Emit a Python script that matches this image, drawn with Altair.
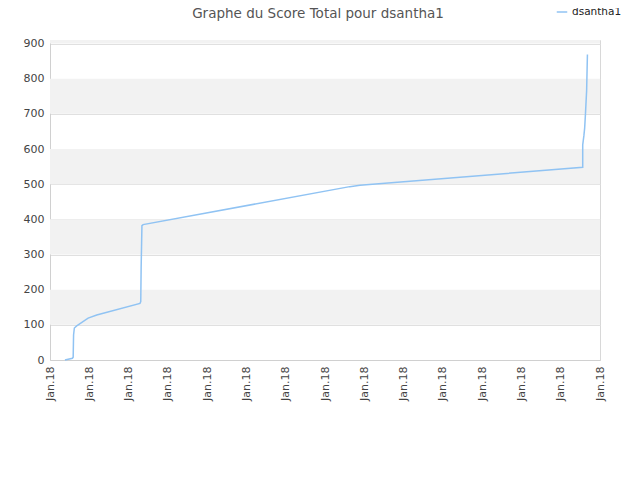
import altair as alt
import pandas as pd

# data (x in tick units: 0..14, each tick labelled "Jan.18")
xs = [0.38, 0.57, 0.59, 0.60, 0.62, 0.68, 0.97, 1.19, 2.29, 2.31, 2.32, 2.34, 2.37,
      7.63, 7.89, 13.56, 13.56, 13.59, 13.61, 13.63, 13.66, 13.68]
ys = [0, 5, 8, 71, 91, 97, 119, 128, 161, 166, 262, 382, 385,
      493, 497, 548, 612, 638, 660, 700, 767, 869]
series = ["dsantha1"] * len(xs)
tick_values = list(range(15))
tick_label = "Jan.18"
y_ticks = list(range(0, 901, 100))
band_starts = [100, 300, 500, 700, 900]
band_ends = [200, 400, 600, 800, 910]

df = pd.DataFrame({"x": xs, "y": ys, "s": series})
bands = pd.DataFrame({"b0": band_starts, "b1": band_ends})

xscale = alt.Scale(domain=[0, 14], nice=False)
yscale = alt.Scale(domain=[0, 910], nice=False)
yaxis = alt.Axis(values=y_ticks, labelColor="#444", labelFontSize=11,
                 labelFont="DejaVu Sans", gridColor="#e0e0e0", ticks=False,
                 domainColor="#d0d0d0", labelPadding=6)

band_layer = alt.Chart(bands).mark_rect(color="#f2f2f2").encode(
    y=alt.Y("b0:Q", scale=yscale, axis=yaxis, title=None),
    y2="b1:Q",
    x=alt.value(0),
    x2=alt.value(550),
)

line = alt.Chart(df).mark_line(strokeWidth=1.5, interpolate="linear").encode(
    x=alt.X("x:Q", scale=xscale, title=None,
            axis=alt.Axis(values=tick_values, labelExpr=f"'{tick_label}'", labelAngle=-90,
                          labelColor="#444", labelFontSize=11, labelFont="DejaVu Sans",
                          grid=False, ticks=False, domainColor="#d0d0d0", labelPadding=6)),
    y=alt.Y("y:Q", scale=yscale, title=None, axis=yaxis),
    color=alt.Color("s:N", scale=alt.Scale(range=["#90c3f3"]), title=None,
                    legend=alt.Legend(orient="none", legendX=506, legendY=-34,
                                      symbolType="stroke", symbolSize=110, symbolStrokeWidth=1.5,
                                      labelFont="DejaVu Sans", labelFontSize=10.5, labelColor="#222")),
)

chart = alt.layer(band_layer, line).properties(
    width=550, height=320,
    autosize=alt.AutoSizeParams(type="none"),
    padding={"left": 42, "top": 32, "right": 32, "bottom": 112},
    title=alt.TitleParams("Graphe du Score Total pour dsantha1", font="DejaVu Sans",
                          fontSize=13.5, fontWeight="normal", color="#555", anchor="middle",
                          frame="group", offset=0, dx=-7, dy=14),
).configure_view(stroke="#d8d8d8")

chart.save("out.html", embed_options={"renderer": "svg", "actions": False})
